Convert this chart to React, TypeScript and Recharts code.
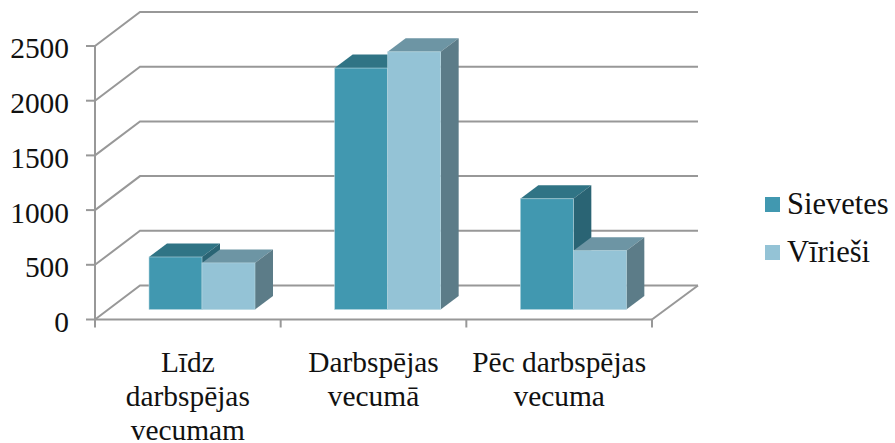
import { Bar, BarChart, CartesianGrid, Legend, XAxis, YAxis } from "recharts";

const categories = ["Līdz darbspējas vecumam", "Darbspējas vecumā", "Pēc darbspējas vecuma"];
const categoryLines = [
  ["Līdz", "darbspējas", "vecumam"],
  ["Darbspējas", "vecumā"],
  ["Pēc darbspējas", "vecuma"],
];
const sievetes = [480, 2207, 1012];
const virviesi = [426, 2355, 538];
const yTicks = [0, 500, 1000, 1500, 2000, 2500];

const data = categories.map((name, i) => ({
  name,
  Sievetes: sievetes[i],
  Vīrieši: virviesi[i],
}));

const FONT = '"Liberation Serif", "Times New Roman", serif';
const TEXT_COLOR = "#111";
const AXIS_COLOR = "#989898";

const WIDTH = 895;
const HEIGHT = 443;
const LEFT = 95;
const RIGHT = 652;
const TOP = 46;
const BOTTOM = 319.5;
const BAND = (RIGHT - LEFT) / categories.length;

// floor depth of the fake 3d box, and depth of one bar inside it
const DEPTH_X = 46;
const DEPTH_Y = 34;
const BAR_DX = 18;
const BAR_DY = 13.5;
const SHIFT_X = 14;
const SHIFT_Y = 10;

function gridLine(props: any) {
  const { x1, x2, y1, index } = props;
  const y = y1;
  const isFloor = Math.abs(y - BOTTOM) < 1;
  return (
    <g key={`grid-${index}`}>
      <path
        d={`M${x1} ${y} L${x1 + DEPTH_X - 1} ${y - DEPTH_Y} L${x2 + DEPTH_X} ${y - DEPTH_Y}`}
        fill="none"
        stroke={AXIS_COLOR}
        strokeWidth={2}
      />
      {isFloor && (
        <path
          d={`M${x2} ${y} L${x2 + DEPTH_X} ${y - DEPTH_Y}`}
          fill="none"
          stroke={AXIS_COLOR}
          strokeWidth={2}
        />
      )}
    </g>
  );
}

function box(front: string, top: string, side: string) {
  return function BoxShape(props: any) {
    const { width, height } = props;
    const x = props.x + SHIFT_X;
    const y = props.y - SHIFT_Y;
    const r = x + width;
    const b = y + height;
    return (
      <g>
        <path
          d={`M${x} ${y} L${x + BAR_DX} ${y - BAR_DY} L${r + BAR_DX} ${y - BAR_DY} L${r} ${y} Z`}
          fill={top}
        />
        <path
          d={`M${r} ${y} L${r + BAR_DX} ${y - BAR_DY} L${r + BAR_DX} ${b - BAR_DY} L${r} ${b} Z`}
          fill={side}
        />
        <rect x={x} y={y} width={width} height={height} fill={front} stroke="#b5d6e0" strokeWidth={0.6} />
      </g>
    );
  };
}

function CategoryTick(props: any) {
  const { x, index } = props;
  const lines = categoryLines[index] ?? [];
  const left = x - BAND / 2;
  const right = x + BAND / 2;
  return (
    <g>
      {index === 0 && <line x1={left} x2={left} y1={BOTTOM} y2={BOTTOM + 8} stroke={AXIS_COLOR} strokeWidth={2} />}
      <line x1={right} x2={right} y1={BOTTOM} y2={BOTTOM + 8} stroke={AXIS_COLOR} strokeWidth={2} />
      {lines.map((line, i) => (
        <text
          key={line}
          x={x}
          y={371.5 + i * 34}
          textAnchor="middle"
          fontFamily={FONT}
          fontSize={29.4}
          fill={TEXT_COLOR}
        >
          {line}
        </text>
      ))}
    </g>
  );
}

function ChartLegend({ payload }: any) {
  return (
    <div style={{ fontFamily: FONT, fontSize: 30.5, color: TEXT_COLOR }}>
      {(payload ?? []).map((item: any) => (
        <div key={item.value} style={{ display: "flex", alignItems: "center", height: 48.5, whiteSpace: "nowrap" }}>
          <span style={{ width: 15, height: 15, background: item.color, marginRight: 7, flex: "none" }} />
          {item.value}
        </div>
      ))}
    </div>
  );
}

export default function App() {
  return (
    <div style={{ position: "absolute", left: 0, top: 0, background: "#fff" }}>
      <BarChart
        width={WIDTH}
        height={HEIGHT}
        data={data}
        margin={{ top: TOP, right: WIDTH - RIGHT, bottom: 0, left: 0 }}
        barSize={53}
        barGap={0}
      >
        <CartesianGrid vertical={false} horizontal={gridLine} />
        <XAxis
          dataKey="name"
          height={HEIGHT - BOTTOM}
          axisLine={{ stroke: AXIS_COLOR, strokeWidth: 2 }}
          tickLine={false}
          interval={0}
          tick={<CategoryTick />}
        />
        <YAxis
          width={LEFT}
          domain={[0, 2500]}
          ticks={yTicks}
          interval={0}
          axisLine={{ stroke: AXIS_COLOR, strokeWidth: 2 }}
          tickLine={{ stroke: AXIS_COLOR, strokeWidth: 2 }}
          tickSize={9}
          tickMargin={17}
          tick={{ fontFamily: FONT, fontSize: 29.4, fill: TEXT_COLOR, dy: 2 }}
        />
        <Legend
          layout="vertical"
          align="center"
          verticalAlign="middle"
          content={<ChartLegend />}
          wrapperStyle={{ left: 765, top: 180, width: 130, bottom: "auto", right: "auto" }}
        />
        <Bar dataKey="Sievetes" fill="#4198B0" isAnimationActive={false} shape={box("#4198B0", "#307485", "#2A6474")} />
        <Bar dataKey="Vīrieši" fill="#94C3D6" isAnimationActive={false} shape={box("#94C3D6", "#6D95A4", "#5C7C88")} />
      </BarChart>
    </div>
  );
}
